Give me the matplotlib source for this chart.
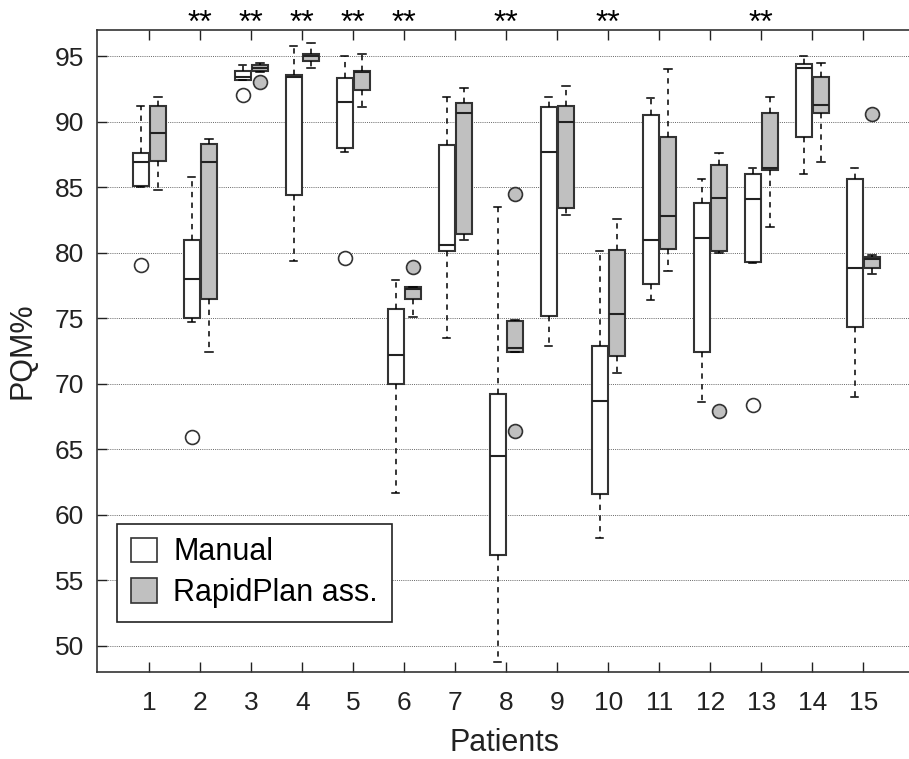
import numpy as np
import matplotlib
matplotlib.use("Agg")
import matplotlib.pyplot as plt
from matplotlib.patches import Patch

## 1. DATA --------------------------------------

patients = np.arange(1, 16)

# Manual plans
manual_q3 = [87.6, 81.0, 93.9, 93.6, 93.3, 75.7, 88.2, 69.2, 91.1, 72.9, 90.5, 83.8, 86.0, 94.4, 85.6]
manual_med = [86.9, 78.0, 93.4, 93.4, 91.5, 72.2, 80.6, 64.5, 87.7, 68.7, 81.0, 81.1, 84.1, 94.1, 78.8]
manual_q1 = [85.1, 75.0, 93.2, 84.4, 88.0, 70.0, 80.1, 56.9, 75.2, 61.6, 77.6, 72.4, 79.3, 88.8, 74.3]
manual_hi = [91.2, 85.8, 94.3, 95.8, 95.0, 77.9, 91.9, 83.5, 91.9, 80.1, 91.8, 85.6, 86.5, 95.0, 86.5]
manual_lo = [85.0, 74.7, 93.2, 79.4, 87.7, 61.7, 73.5, 48.8, 72.9, 58.2, 76.4, 68.6, 79.2, 86.0, 69.0]
manual_out = {1: [79.1], 2: [65.9], 3: [92.0], 5: [79.6], 13: [68.4]}

# RapidPlan assisted plans
rapid_q3 = [91.2, 88.3, 94.3, 95.2, 93.9, 77.4, 91.4, 74.8, 91.2, 80.2, 88.8, 86.7, 90.7, 93.4, 79.7]
rapid_med = [89.1, 86.9, 94.1, 95.0, 93.8, 77.2, 90.7, 72.7, 90.0, 75.3, 82.8, 84.2, 86.5, 91.3, 79.5]
rapid_q1 = [87.0, 76.5, 93.9, 94.6, 92.4, 76.5, 81.4, 72.4, 83.4, 72.1, 80.3, 80.1, 86.3, 90.7, 78.8]
rapid_hi = [91.9, 88.7, 94.5, 96.0, 95.2, 77.4, 92.6, 74.9, 92.7, 82.6, 94.0, 87.6, 91.9, 94.5, 79.8]
rapid_lo = [84.8, 72.4, 93.8, 94.1, 91.1, 75.1, 81.0, 72.4, 82.9, 70.8, 78.6, 80.0, 82.0, 86.9, 78.4]
rapid_out = {3: [93.0], 6: [78.9], 8: [84.5, 66.4], 12: [67.9], 15: [90.6]}

significant = [2, 3, 4, 5, 6, 8, 10, 13]  # patients marked with **


## 2. HELPERS ----------------

def make_stats(q1, med, q3, lo, hi, out):
    stats = []
    for i in range(len(med)):
        stats.append(dict(q1=q1[i], med=med[i], q3=q3[i], whislo=lo[i], whishi=hi[i],
                          fliers=out.get(i + 1, [])))
    return stats


def draw_group(ax, stats, pos, face):
    ax.bxp(stats, positions=pos, widths=0.31, capwidths=0.14, patch_artist=True,
           showfliers=True, manage_ticks=False,
           boxprops=dict(facecolor=face, edgecolor='#333333', linewidth=1.5),
           medianprops=dict(color='#222222', linewidth=1.5),
           whiskerprops=dict(color='black', linewidth=1.1, linestyle=(0, (3.5, 3.5))),
           capprops=dict(color='black', linewidth=1.1),
           flierprops=dict(marker='o', markersize=10, markerfacecolor=face,
                           markeredgecolor='#333333', markeredgewidth=1.2),
           zorder=3)


## 3. PLOT ----------------

plt.rcParams['font.family'] = ['Liberation Sans', 'DejaVu Sans']

fig = plt.figure(figsize=(9.09, 7.59), dpi=100)
ax = fig.add_axes([0.1062, 0.1146, 0.8971, 0.8459])

draw_group(ax, make_stats(manual_q1, manual_med, manual_q3, manual_lo, manual_hi, manual_out),
           patients - 0.17, 'white')
draw_group(ax, make_stats(rapid_q1, rapid_med, rapid_q3, rapid_lo, rapid_hi, rapid_out),
           patients + 0.17, '#c0c0c0')

# significance stars above the axes
for p in significant:
    ax.text(p, 97.5, '**', ha='center', va='center', fontsize=23, clip_on=False)

ax.set_xlim(-0.035, 15.955)
ax.set_ylim(48, 97)
ax.set_xticks(patients)
ax.set_yticks(np.arange(50, 96, 5))
ax.yaxis.grid(True, linestyle=(0, (1, 1.2)), color='#666666', linewidth=0.7, zorder=0)
ax.set_axisbelow(True)

ax.tick_params(axis='both', direction='in', length=7, width=1, labelsize=19,
               top=True, right=False, colors='#222222')
ax.tick_params(axis='x', pad=14)
ax.tick_params(axis='y', pad=9)
for s in ax.spines.values():
    s.set_linewidth(1.2)
    s.set_color('#333333')

ax.set_xlabel('Patients', fontsize=22, labelpad=9, color='#222222')
ax.set_ylabel('PQM%', fontsize=22, labelpad=12, color='#222222')

handles = [Patch(facecolor='white', edgecolor='#333333', linewidth=1.2, label='Manual'),
           Patch(facecolor='#c0c0c0', edgecolor='#333333', linewidth=1.2, label='RapidPlan ass.')]
leg = ax.legend(handles=handles, loc='lower left', bbox_to_anchor=(0.025, 0.078),
                borderaxespad=0, fontsize=22, fancybox=False, framealpha=1,
                edgecolor='#222222', handlelength=0.85, handleheight=0.85,
                handletextpad=0.55, borderpad=0.45, labelspacing=0.35)
leg.get_frame().set_linewidth(1.2)

fig.savefig('out.png', dpi=100)
